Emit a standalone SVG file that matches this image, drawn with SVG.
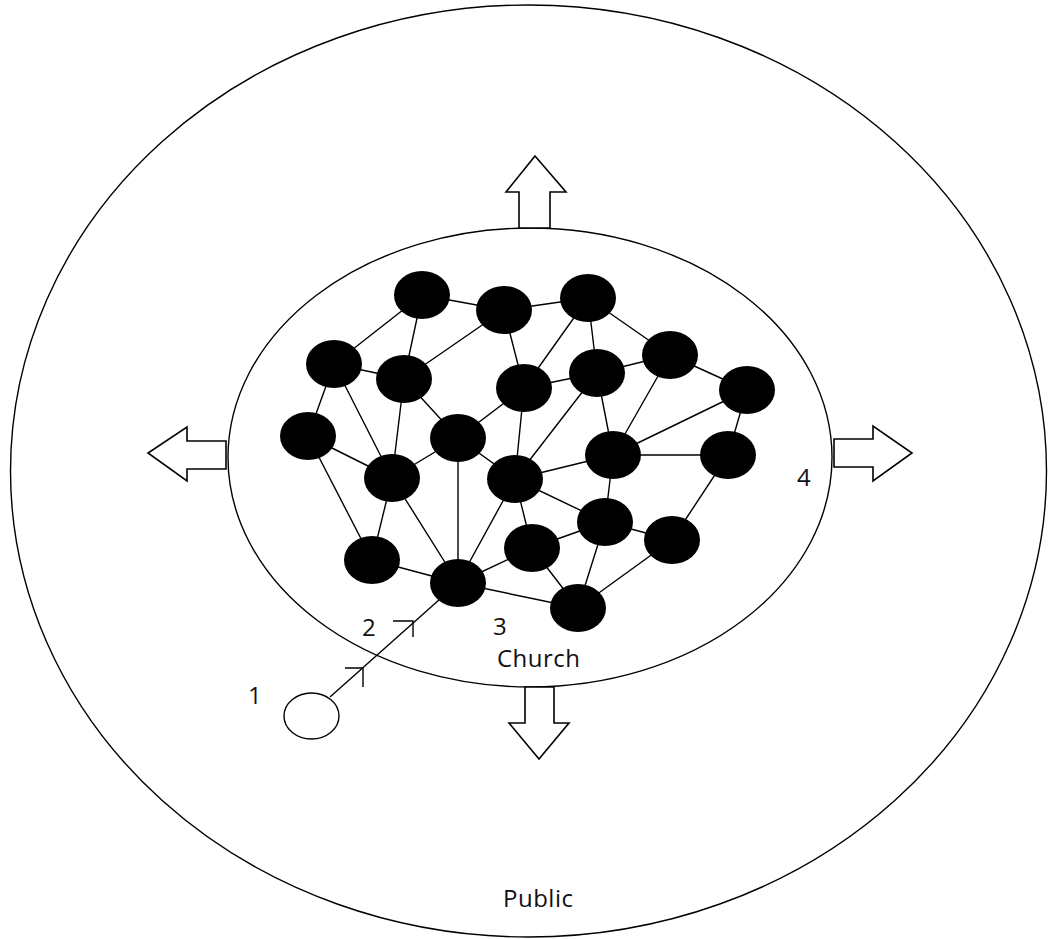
<svg xmlns="http://www.w3.org/2000/svg" width="1049" height="939" viewBox="0 0 1049 939">
<style>
.ring{fill:none;stroke:#000;stroke-width:1.4}
.arrow{fill:#fff;stroke:#000;stroke-width:1.6;stroke-linejoin:miter}
.node{fill:#000}
.edge{stroke:#000;stroke-width:1.4;fill:none}
.lbl{font-family:"Open Sans","DejaVu Sans",sans-serif;font-size:24px;letter-spacing:0.5px;fill:#111}
</style>
<rect width="1049" height="939" fill="#fff"/>
<g id="public">
<ellipse class="ring" cx="528.5" cy="471" rx="518" ry="466"/>
<text class="lbl" x="503" y="907">Public</text>
</g>
<g id="church">
<ellipse class="ring" cx="530" cy="457.5" rx="302" ry="229.5"/>
<text class="lbl" x="497" y="667">Church</text>
</g>
<g id="arrow-up"><polygon class="arrow" points="519,228 519,192 506,192 535,156 566,192 550,192 550,228"/></g>
<g id="arrow-left"><polygon class="arrow" points="226,441 187,441 187,427 148,453 187,481 187,469 226,469"/></g>
<g id="arrow-right"><polygon class="arrow" points="834,439 873,439 873,426 912,453 873,481 873,467 834,467"/></g>
<g id="arrow-down"><polygon class="arrow" points="525,687 525,723 509,723 539,759 569,723 554,723 554,687"/></g>
<g id="connectors">
<path class="edge" d="M422,295L504,310 M422,295L334,364 M422,295L404,379 M504,310L588,298 M504,310L404,379 M504,310L524,388 M588,298L524,388 M588,298L597,373 M588,298L670,355 M334,364L404,379 M334,364L308,436 M334,364L392,478 M404,379L458,438 M404,379L392,478 M597,373L670,355 M597,373L524,388 M597,373L613,455 M597,373L515,479 M670,355L747,390 M670,355L613,455 M524,388L458,438 M524,388L515,479 M747,390L613,455 M747,390L728,455 M308,436L392,478 M308,436L372,560 M458,438L392,478 M458,438L515,479 M458,438L458,583 M613,455L728,455 M613,455L515,479 M613,455L605,522 M728,455L672,540 M392,478L372,560 M392,478L458,583 M515,479L605,522 M515,479L532,548 M515,479L458,583 M605,522L672,540 M605,522L532,548 M605,522L578,608 M672,540L578,608 M532,548L458,583 M532,548L578,608 M372,560L458,583 M458,583L578,608"/>
<path class="edge" d="M330,697L458,583"/>
<path class="edge" d="M345,668L363,668L363,687 M393,621L413,621L413,637"/>
</g>
<g id="nodes">
<ellipse class="node" cx="422" cy="295" rx="28" ry="24"/>
<ellipse class="node" cx="504" cy="310" rx="28" ry="24"/>
<ellipse class="node" cx="588" cy="298" rx="28" ry="24"/>
<ellipse class="node" cx="334" cy="364" rx="28" ry="24"/>
<ellipse class="node" cx="404" cy="379" rx="28" ry="24"/>
<ellipse class="node" cx="597" cy="373" rx="28" ry="24"/>
<ellipse class="node" cx="670" cy="355" rx="28" ry="24"/>
<ellipse class="node" cx="524" cy="388" rx="28" ry="24"/>
<ellipse class="node" cx="747" cy="390" rx="28" ry="24"/>
<ellipse class="node" cx="308" cy="436" rx="28" ry="24"/>
<ellipse class="node" cx="458" cy="438" rx="28" ry="24"/>
<ellipse class="node" cx="613" cy="455" rx="28" ry="24"/>
<ellipse class="node" cx="728" cy="455" rx="28" ry="24"/>
<ellipse class="node" cx="392" cy="478" rx="28" ry="24"/>
<ellipse class="node" cx="515" cy="479" rx="28" ry="24"/>
<ellipse class="node" cx="605" cy="522" rx="28" ry="24"/>
<ellipse class="node" cx="672" cy="540" rx="28" ry="24"/>
<ellipse class="node" cx="532" cy="548" rx="28" ry="24"/>
<ellipse class="node" cx="372" cy="560" rx="28" ry="24"/>
<ellipse class="node" cx="458" cy="583" rx="28" ry="24"/>
<ellipse class="node" cx="578" cy="608" rx="28" ry="24"/>
</g>
<g id="newcomer">
<ellipse class="ring" cx="311.5" cy="716" rx="27.5" ry="23"/>
</g>
<g id="labels">
<text class="lbl" x="248" y="704">1</text>
<text class="lbl" x="362" y="636">2</text>
<text class="lbl" x="493" y="635">3</text>
<text class="lbl" x="797" y="486">4</text>
</g>
</svg>
